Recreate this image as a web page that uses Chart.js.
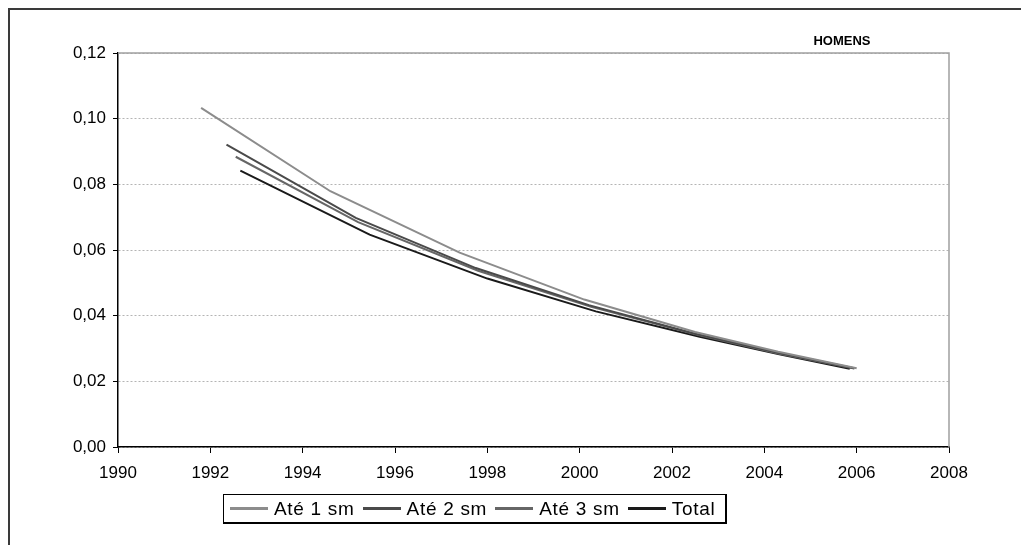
<!DOCTYPE html>
<html>
<head>
<meta charset="utf-8">
<script src="https://cdn.jsdelivr.net/npm/chart.js@4/dist/chart.umd.min.js"></script>
<style>
    body { margin: 0; background: #fff; overflow: hidden; }
    #wrap { position: relative; width: 1021px; height: 545px; }
    #frame { position: absolute; left: 8px; top: 8px; width: 1040px; height: 560px; border: 2px solid #3a3a3a; }
    #chart { position: absolute; left: 0; top: 0; }
    #legend {
        position: absolute; left: 223px; top: 494px; width: 504px; height: 30px;
        border: 1px solid #000; border-right-width: 2px; border-bottom-width: 2px;
        box-sizing: border-box; display: flex; align-items: center; padding-left: 6px;
        font-family: "Liberation Sans", Arial, sans-serif; font-size: 19px; letter-spacing: 0.7px; color: #000;
    }
    .item { display: flex; align-items: center; margin-right: 8px; white-space: nowrap; }
    .swatch { width: 38px; height: 3px; margin-right: 6px; }
</style>
</head>
<body>
<div id="wrap">
    <div id="frame"></div>
    <canvas id="chart" width="1021" height="545"></canvas>
    <div id="legend"></div>
</div>
<script>
    // Values
    const seriesNames = ["Até 1 sm", "Até 2 sm", "Até 3 sm", "Total"];
    const seriesColors = ["#8c8c8c", "#4a4a4a", "#666666", "#1a1a1a"];

    const ate1Years = [1991.8, 1994.6, 1997.4, 2000.1, 2002.5, 2004.3, 2006.0];
    const ate1Values = [0.1033, 0.0779, 0.0592, 0.0449, 0.0350, 0.0290, 0.0240];

    const ate2Years = [1992.35, 1995.15, 1997.75, 2000.2, 2002.5, 2004.3, 2005.95];
    const ate2Values = [0.0921, 0.0698, 0.0545, 0.0432, 0.0345, 0.0287, 0.0240];

    const ate3Years = [1992.55, 1995.2, 1997.8, 2000.25, 2002.55, 2004.3, 2005.95];
    const ate3Values = [0.0884, 0.0685, 0.0537, 0.0427, 0.0342, 0.0285, 0.0239];

    const totalYears = [1992.65, 1995.45, 1998.0, 2000.35, 2002.6, 2004.3, 2005.85];
    const totalValues = [0.0842, 0.0647, 0.0513, 0.0413, 0.0336, 0.0283, 0.0238];

    const chartTitle = "HOMENS";

    function toPoints(xs, ys) {
        return xs.map((x, i) => ({ x: x, y: ys[i] }));
    }

    const allYears = [ate1Years, ate2Years, ate3Years, totalYears];
    const allValues = [ate1Values, ate2Values, ate3Values, totalValues];

    const datasets = seriesNames.map((name, i) => ({
        label: name,
        data: toPoints(allYears[i], allValues[i]),
        borderColor: seriesColors[i],
        borderWidth: 2,
        pointRadius: 0,
        tension: 0,
        fill: false,
    }));

    // Grey top/right border of the plot area and the small title
    const plotFrame = {
        id: "plotFrame",
        beforeDatasetsDraw(chart) {
            const { ctx, chartArea: a } = chart;
            ctx.save();
            ctx.strokeStyle = "#a0a0a0";
            ctx.lineWidth = 1.5;
            ctx.beginPath();
            ctx.moveTo(a.left, a.top);
            ctx.lineTo(a.right, a.top);
            ctx.lineTo(a.right, a.bottom);
            ctx.stroke();
            ctx.restore();
        },
        afterDraw(chart) {
            const { ctx } = chart;
            ctx.save();
            ctx.font = "bold 13px 'Liberation Sans', Arial, sans-serif";
            ctx.fillStyle = "#000";
            ctx.textAlign = "center";
            ctx.textBaseline = "middle";
            ctx.fillText(chartTitle, 842, 41);
            ctx.restore();
        }
    };

    const tickFont = { family: "'Liberation Sans', Arial, sans-serif", size: 17 };

    new Chart(document.getElementById("chart").getContext("2d"), {
        type: "line",
        data: { datasets: datasets },
        options: {
            responsive: false,
            animation: false,
            layout: { padding: { left: 38, top: 53, right: 72, bottom: 58 } },
            plugins: {
                legend: { display: false },
                tooltip: { enabled: false },
            },
            scales: {
                x: {
                    type: "linear",
                    min: 1990,
                    max: 2008,
                    ticks: { stepSize: 2, color: "#000", font: tickFont, padding: 10, maxRotation: 0,
                        callback: v => String(v) },
                    grid: { drawOnChartArea: false, tickLength: 6, tickColor: "#000", tickWidth: 1 },
                    border: { color: "#000", width: 1.5 },
                    afterFit: s => { s.height = 40; },
                },
                y: {
                    min: 0,
                    max: 0.12,
                    ticks: { stepSize: 0.02, color: "#000", font: tickFont, padding: 7,
                        callback: v => v.toFixed(2).replace(".", ",") },
                    grid: { color: "#b4b4b4", lineWidth: 1, tickLength: 5, tickColor: "#000", tickWidth: 1 },
                    border: { color: "#000", width: 1.5, dash: [2, 2] },
                    afterFit: s => { s.width = 80; },
                },
            },
        },
        plugins: [plotFrame],
    });

    // Legend box under the chart
    const legend = document.getElementById("legend");
    seriesNames.forEach((name, i) => {
        const item = document.createElement("div");
        item.className = "item";
        const sw = document.createElement("span");
        sw.className = "swatch";
        sw.style.background = seriesColors[i];
        const txt = document.createElement("span");
        txt.textContent = name;
        item.appendChild(sw);
        item.appendChild(txt);
        legend.appendChild(item);
    });
</script>
</body>
</html>
